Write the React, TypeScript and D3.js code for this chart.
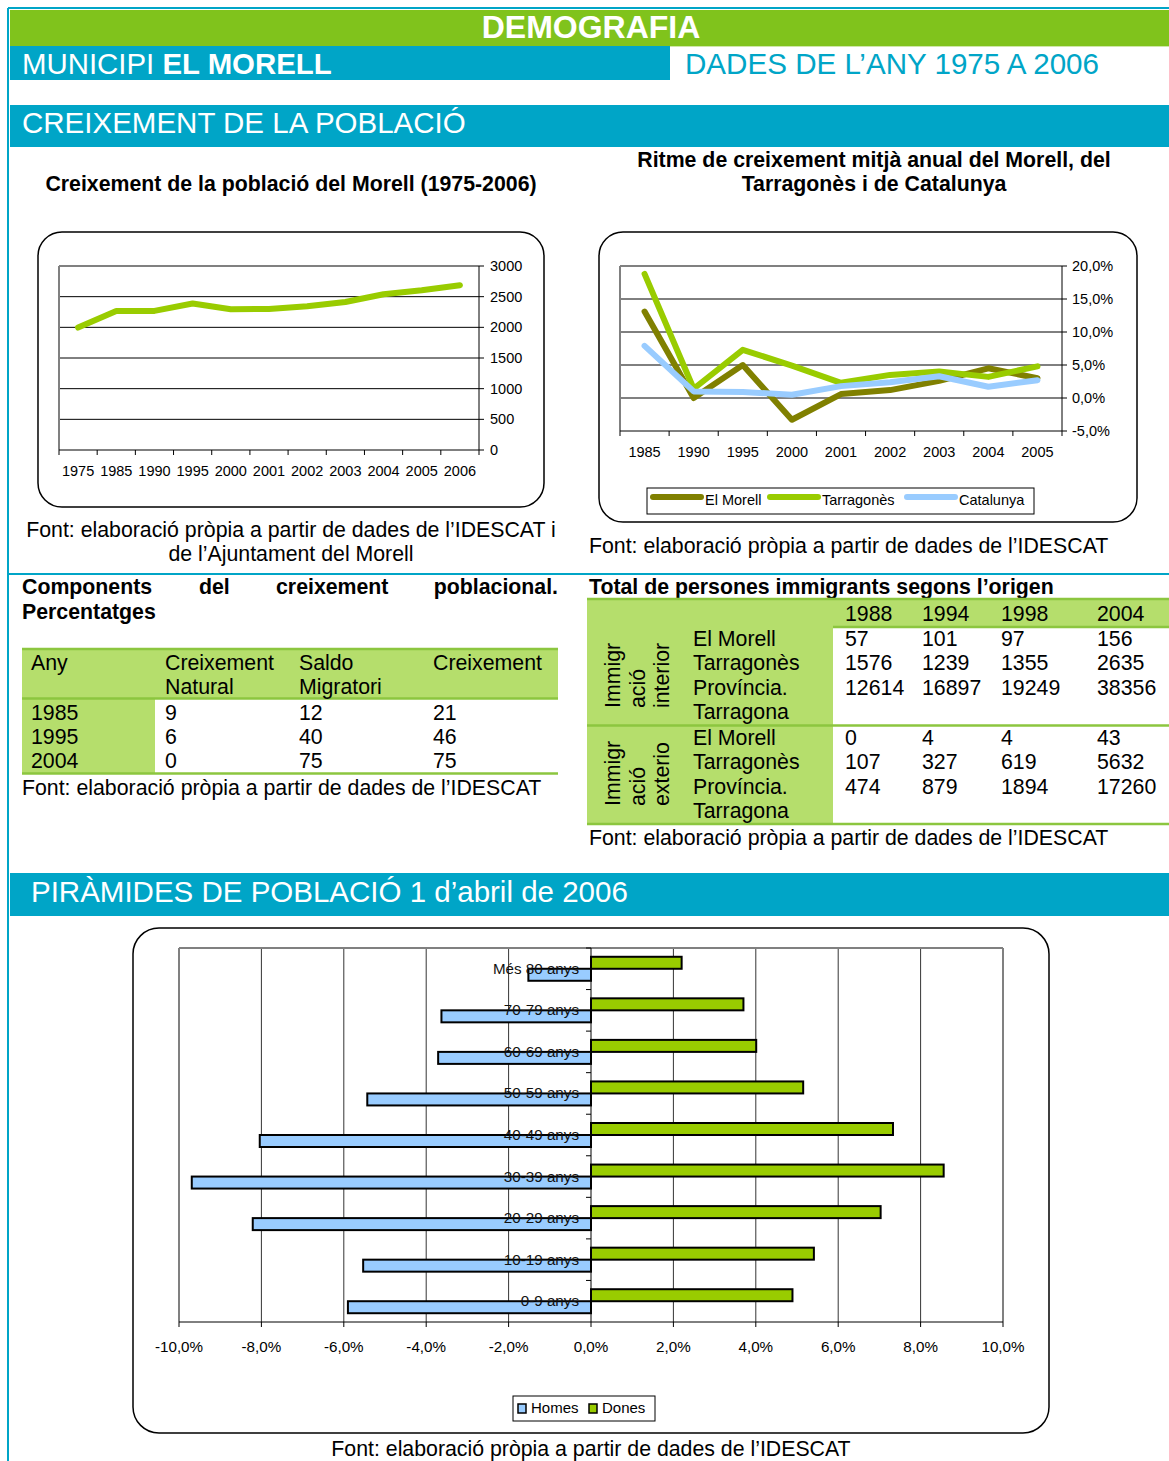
import React from 'react';
import * as d3 from 'd3';

// colours
const TEAL = '#00a5c7';
const GREEN = '#80c31c';
const LIGHT = '#b5de6c';
const LINEGREEN = '#8cc63f';
const FONT = '"Liberation Sans", Arial, sans-serif';
const BODY = 21.3;
const AXIS = 14.5;

// chart 1 - population
const popYears = ['1975', '1985', '1990', '1995', '2000', '2001', '2002', '2003', '2004', '2005', '2006'];
const popValues = [1997, 2268, 2268, 2388, 2295, 2300, 2344, 2414, 2540, 2604, 2686];
const popTicks = [0, 500, 1000, 1500, 2000, 2500, 3000];

// chart 2 - growth rate
const rateYears = ['1985', '1990', '1995', '2000', '2001', '2002', '2003', '2004', '2005'];
const morell = [13.1, 0.0, 5.0, -3.3, 0.6, 1.2, 2.6, 4.5, 3.0];
const tarragones = [18.8, 1.4, 7.3, 4.9, 2.3, 3.5, 4.0, 3.2, 4.8];
const catalunya = [7.9, 1.0, 0.9, 0.5, 1.8, 2.4, 3.3, 1.7, 2.7];
const rateTicks = [-5, 0, 5, 10, 15, 20];

// components table
const compYears = ['1985', '1995', '2004'];
const compNatural = [9, 6, 0];
const compSaldo = [12, 40, 75];
const compTotal = [21, 46, 75];

// immigrants table
const immYears = ['1988', '1994', '1998', '2004'];
const immPlaces = ['El Morell', 'Tarragonès', 'Província.', 'Tarragona'];
const intMorell = [57, 101, 97, 156];
const intTarragones = [1576, 1239, 1355, 2635];
const intProvincia = [12614, 16897, 19249, 38356];
const extMorell = [0, 4, 4, 43];
const extTarragones = [107, 327, 619, 5632];
const extProvincia = [474, 879, 1894, 17260];

// pyramid
const ages = ['Més 80 anys', '70-79 anys', '60-69 anys', '50-59 anys', '40-49 anys', '30-39 anys', '20-29 anys', '10-19 anys', '0-9 anys'];
const homes = [-1.52, -3.63, -3.71, -5.43, -8.04, -9.69, -8.21, -5.53, -5.9];
const dones = [2.2, 3.7, 4.01, 5.15, 7.33, 8.56, 7.03, 5.41, 4.89];
const pyrTicks = [-10, -8, -6, -4, -2, 0, 2, 4, 6, 8, 10];

const fmt = (v: number) => v.toFixed(1).replace('.', ',') + '%';

const PopChart = () => {
  const x = d3.scaleBand().domain(popYears).range([59, 479]);
  const y = d3.scaleLinear().domain([0, 3000]).range([450, 266]);
  const line = d3.line<number>().x((d, i) => x(popYears[i])! + x.bandwidth() / 2).y(d => y(d));
  return (
    <g>
      <rect x={38} y={232} width={506} height={275} rx={24} fill="#fff" stroke="#000" strokeWidth={1.5} />
      {popTicks.map(t => (
        <g key={t}>
          {t > 0 && t < 3000 && <line x1={59} x2={479} y1={y(t)} y2={y(t)} stroke="#000" strokeWidth={1} />}
          <line x1={479} x2={484} y1={y(t)} y2={y(t)} stroke="#000" />
          <text x={490} y={y(t) + 5} fontSize={AXIS} fill="#000">{t}</text>
        </g>
      ))}
      <line x1={59} x2={479} y1={266} y2={266} stroke="#808080" strokeWidth={2} />
      <line x1={59} x2={59} y1={266} y2={450} stroke="#808080" strokeWidth={2} />
      <line x1={479} x2={479} y1={266} y2={450} stroke="#000" />
      <line x1={59} x2={479} y1={450} y2={450} stroke="#000" />
      {popYears.map(yr => (
        <g key={yr}>
          <line x1={x(yr)!} x2={x(yr)!} y1={450} y2={455} stroke="#000" />
          <text x={x(yr)! + x.bandwidth() / 2} y={476} fontSize={AXIS} textAnchor="middle">{yr}</text>
        </g>
      ))}
      <line x1={479} x2={479} y1={450} y2={455} stroke="#000" />
      <path d={line(popValues)!} fill="none" stroke="#99cc00" strokeWidth={6} strokeLinejoin="round" strokeLinecap="round" />
    </g>
  );
};

const RateChart = () => {
  const x = d3.scaleBand().domain(rateYears).range([620, 1062]);
  const y = d3.scaleLinear().domain([-5, 20]).range([431, 266]);
  const line = d3.line<number>().x((d, i) => x(rateYears[i])! + x.bandwidth() / 2).y(d => y(d));
  const series = [
    { name: 'El Morell', values: morell, color: '#808000' },
    { name: 'Tarragonès', values: tarragones, color: '#99cc00' },
    { name: 'Catalunya', values: catalunya, color: '#99ccff' },
  ];
  const legendX = [650, 767, 904];
  return (
    <g>
      <rect x={599} y={232} width={538} height={290} rx={24} fill="#fff" stroke="#000" strokeWidth={1.5} />
      {rateTicks.map(t => (
        <g key={t}>
          {t > -5 && t < 20 && <line x1={620} x2={1062} y1={y(t)} y2={y(t)} stroke={t === 0 ? '#808080' : '#000'} strokeWidth={t === 0 ? 2 : 1} />}
          <line x1={1062} x2={1067} y1={y(t)} y2={y(t)} stroke="#000" />
          <text x={1072} y={y(t) + 5} fontSize={AXIS}>{fmt(t)}</text>
        </g>
      ))}
      <line x1={620} x2={1062} y1={266} y2={266} stroke="#808080" strokeWidth={2} />
      <line x1={620} x2={620} y1={266} y2={431} stroke="#808080" strokeWidth={2} />
      <line x1={1062} x2={1062} y1={266} y2={431} stroke="#000" />
      <line x1={620} x2={1062} y1={431} y2={431} stroke="#000" />
      {rateYears.map(yr => (
        <g key={yr}>
          <line x1={x(yr)!} x2={x(yr)!} y1={431} y2={436} stroke="#000" />
          <text x={x(yr)! + x.bandwidth() / 2} y={457} fontSize={AXIS} textAnchor="middle">{yr}</text>
        </g>
      ))}
      <line x1={1062} x2={1062} y1={431} y2={436} stroke="#000" />
      {series.map(s => (
        <path key={s.name} d={line(s.values)!} fill="none" stroke={s.color} strokeWidth={6} strokeLinejoin="round" strokeLinecap="round" />
      ))}
      <rect x={647} y={488} width={387} height={26} fill="#fff" stroke="#000" strokeWidth={1} />
      {series.map((s, i) => (
        <g key={s.name}>
          <line x1={legendX[i] + 3} x2={legendX[i] + 51} y1={497} y2={497} stroke={s.color} strokeWidth={6} strokeLinecap="round" />
          <text x={legendX[i] + 55} y={505} fontSize={AXIS}>{s.name}</text>
        </g>
      ))}
    </g>
  );
};

const CompTable = () => {
  const cols = [31, 165, 299, 433];
  const rowY = [720, 744, 768];
  return (
    <g fontSize={BODY}>
      <g fontWeight="bold">
        <text x={22} y={594}>Components</text>
        <text x={199} y={594}>del</text>
        <text x={276} y={594}>creixement</text>
        <text x={558} y={594} textAnchor="end">poblacional.</text>
        <text x={22} y={619}>Percentatges</text>
      </g>
      <rect x={22} y={649} width={536} height={49} fill={LIGHT} />
      <rect x={22} y={699} width={133} height={74} fill={LIGHT} />
      <line x1={22} x2={558} y1={649} y2={649} stroke={LINEGREEN} strokeWidth={2.5} />
      <line x1={22} x2={558} y1={698.5} y2={698.5} stroke={LINEGREEN} strokeWidth={2.5} />
      <line x1={22} x2={558} y1={773.5} y2={773.5} stroke={LINEGREEN} strokeWidth={2.5} />
      <text x={cols[0]} y={670}>Any</text>
      <text x={cols[1]} y={670}>Creixement</text>
      <text x={cols[1]} y={694}>Natural</text>
      <text x={cols[2]} y={670}>Saldo</text>
      <text x={cols[2]} y={694}>Migratori</text>
      <text x={cols[3]} y={670}>Creixement</text>
      {compYears.map((yr, i) => (
        <g key={yr}>
          <text x={cols[0]} y={rowY[i]}>{yr}</text>
          <text x={cols[1]} y={rowY[i]}>{compNatural[i]}</text>
          <text x={cols[2]} y={rowY[i]}>{compSaldo[i]}</text>
          <text x={cols[3]} y={rowY[i]}>{compTotal[i]}</text>
        </g>
      ))}
      <text x={22} y={795}>Font: elaboració pròpia a partir de dades de l’IDESCAT</text>
    </g>
  );
};

const ImmTable = () => {
  const cols = [845, 922, 1001, 1097];
  const groups = [
    { rows: [intMorell, intTarragones, intProvincia], label: ['Immigr', 'ació', 'interior'], base: [646, 670, 695, 719] },
    { rows: [extMorell, extTarragones, extProvincia], label: ['Immigr', 'ació', 'exterio'], base: [745, 769, 794, 818] },
  ];
  const rotX = [620, 645, 669];
  return (
    <g fontSize={BODY}>
      <text x={589} y={594} fontWeight="bold">Total de persones immigrants segons l’origen</text>
      <rect x={587} y={599} width={582} height={28} fill={LIGHT} />
      <rect x={587} y={627} width={246} height={197} fill={LIGHT} />
      <line x1={587} x2={1169} y1={599} y2={599} stroke={LINEGREEN} strokeWidth={2.5} />
      <line x1={833} x2={1169} y1={627} y2={627} stroke={LINEGREEN} strokeWidth={2.5} />
      <line x1={587} x2={1169} y1={725.5} y2={725.5} stroke={LINEGREEN} strokeWidth={2.5} />
      <line x1={587} x2={1169} y1={824} y2={824} stroke={LINEGREEN} strokeWidth={2.5} />
      {immYears.map((yr, i) => (
        <text key={yr} x={cols[i]} y={621}>{yr}</text>
      ))}
      {groups.map((g, gi) => (
        <g key={gi}>
          {g.label.map((l, li) => (
            <text key={li} transform={`translate(${rotX[li]},${gi === 0 ? 708 : 806}) rotate(-90)`}>{l}</text>
          ))}
          {immPlaces.map((p, pi) => (
            <text key={p} x={693} y={g.base[pi]}>{p}</text>
          ))}
          {g.rows.map((row, ri) =>
            row.map((v, ci) => (
              <text key={`${ri}-${ci}`} x={cols[ci]} y={g.base[ri]}>{v}</text>
            ))
          )}
        </g>
      ))}
      <text x={589} y={845}>Font: elaboració pròpia a partir de dades de l’IDESCAT</text>
    </g>
  );
};

const Pyramid = () => {
  const x = d3.scaleLinear().domain([-10, 10]).range([179, 1003]);
  const y = d3.scaleBand().domain(ages).range([948, 1322]);
  const bh = 12;
  return (
    <g>
      <rect x={133} y={928} width={916} height={505} rx={26} fill="#fff" stroke="#000" strokeWidth={1.5} />
      {pyrTicks.map(t => (
        <g key={t}>
          {t !== 0 && Math.abs(t) !== 10 && <line x1={x(t)} x2={x(t)} y1={948} y2={1322} stroke="#000" strokeWidth={0.8} />}
          <line x1={x(t)} x2={x(t)} y1={1322} y2={1327} stroke="#000" />
          <text x={x(t)} y={1352} fontSize={15.2} textAnchor="middle">{fmt(t)}</text>
        </g>
      ))}
      <line x1={179} x2={1003} y1={948} y2={948} stroke="#808080" strokeWidth={2} />
      <line x1={179} x2={179} y1={948} y2={1322} stroke="#808080" strokeWidth={2} />
      <line x1={1003} x2={1003} y1={948} y2={1322} stroke="#808080" strokeWidth={2} />
      <line x1={179} x2={1003} y1={1322} y2={1322} stroke="#000" />
      {ages.map((a, i) => {
        const c = y(a)! + y.bandwidth() / 2;
        return (
          <g key={a}>
            <line x1={586} x2={591} y1={y(a)!} y2={y(a)!} stroke="#000" />
            <rect x={x(0)} y={c - bh} width={x(dones[i]) - x(0)} height={bh} fill="#99cc00" stroke="#000" strokeWidth={2} />
            <rect x={x(homes[i])} y={c} width={x(0) - x(homes[i])} height={bh} fill="#99ccff" stroke="#000" strokeWidth={2} />
          </g>
        );
      })}
      <line x1={591} x2={591} y1={948} y2={1322} stroke="#000" />
      {ages.map(a => (
        <text key={a} x={579} y={y(a)! + y.bandwidth() / 2 + 5} fontSize={15.2} textAnchor="end" fill="#111">{a}</text>
      ))}
      <rect x={513} y={1396} width={142} height={25} fill="#fff" stroke="#000" />
      <rect x={518} y={1404} width={8} height={9} fill="#99ccff" stroke="#000" strokeWidth={1.5} />
      <text x={531} y={1413} fontSize={15}>Homes</text>
      <rect x={589} y={1404} width={8} height={9} fill="#99cc00" stroke="#000" strokeWidth={1.5} />
      <text x={602} y={1413} fontSize={15}>Dones</text>
      <text x={591} y={1456} fontSize={BODY} textAnchor="middle">Font: elaboració pròpia a partir de dades de l’IDESCAT</text>
    </g>
  );
};

export default function App() {
  return (
    <svg width={1169} height={1461} style={{ position: 'absolute', left: 0, top: 0 }} fontFamily={FONT}>
      <rect width={1169} height={1461} fill="#fff" />
      {/* frame */}
      <line x1={8} x2={1169} y1={8} y2={8} stroke={TEAL} strokeWidth={2} />
      <line x1={8} x2={8} y1={8} y2={1461} stroke={TEAL} strokeWidth={2} />
      {/* header */}
      <rect x={10} y={10} width={1159} height={36} fill={GREEN} />
      <text x={591} y={38} fontSize={32} fontWeight="bold" fill="#fff" textAnchor="middle">DEMOGRAFIA</text>
      <rect x={10} y={46} width={660} height={34} fill={TEAL} />
      <text x={22} y={74} fontSize={29.4} fill="#fff">MUNICIPI <tspan fontWeight="bold">EL MORELL</tspan></text>
      <text x={685} y={74} fontSize={29.6} fill={TEAL}>DADES DE L’ANY 1975 A 2006</text>
      <line x1={670} x2={1169} y1={46.5} y2={46.5} stroke="#cfe7a8" strokeWidth={1} />
      <rect x={10} y={105} width={1159} height={42} fill={TEAL} />
      <text x={22} y={133} fontSize={29.5} fill="#fff">CREIXEMENT DE LA POBLACIÓ</text>
      {/* chart titles */}
      <text x={291} y={191} fontSize={BODY} fontWeight="bold" textAnchor="middle">Creixement de la població del Morell (1975-2006)</text>
      <text x={874} y={167} fontSize={BODY} fontWeight="bold" textAnchor="middle">Ritme de creixement mitjà anual del Morell, del</text>
      <text x={874} y={191} fontSize={BODY} fontWeight="bold" textAnchor="middle">Tarragonès i de Catalunya</text>
      <PopChart />
      <RateChart />
      <text x={291} y={537} fontSize={BODY} textAnchor="middle">Font: elaboració pròpia a partir de dades de l’IDESCAT i</text>
      <text x={291} y={561} fontSize={BODY} textAnchor="middle">de l’Ajuntament del Morell</text>
      <text x={589} y={553} fontSize={BODY}>Font: elaboració pròpia a partir de dades de l’IDESCAT</text>
      <line x1={8} x2={1169} y1={574} y2={574} stroke={TEAL} strokeWidth={2} />
      <CompTable />
      <ImmTable />
      {/* pyramid section */}
      <rect x={10} y={873} width={1159} height={43} fill={TEAL} />
      <text x={31} y={902} fontSize={29.5} fill="#fff">PIRÀMIDES DE POBLACIÓ 1 d’abril de 2006</text>
      <Pyramid />
    </svg>
  );
}
